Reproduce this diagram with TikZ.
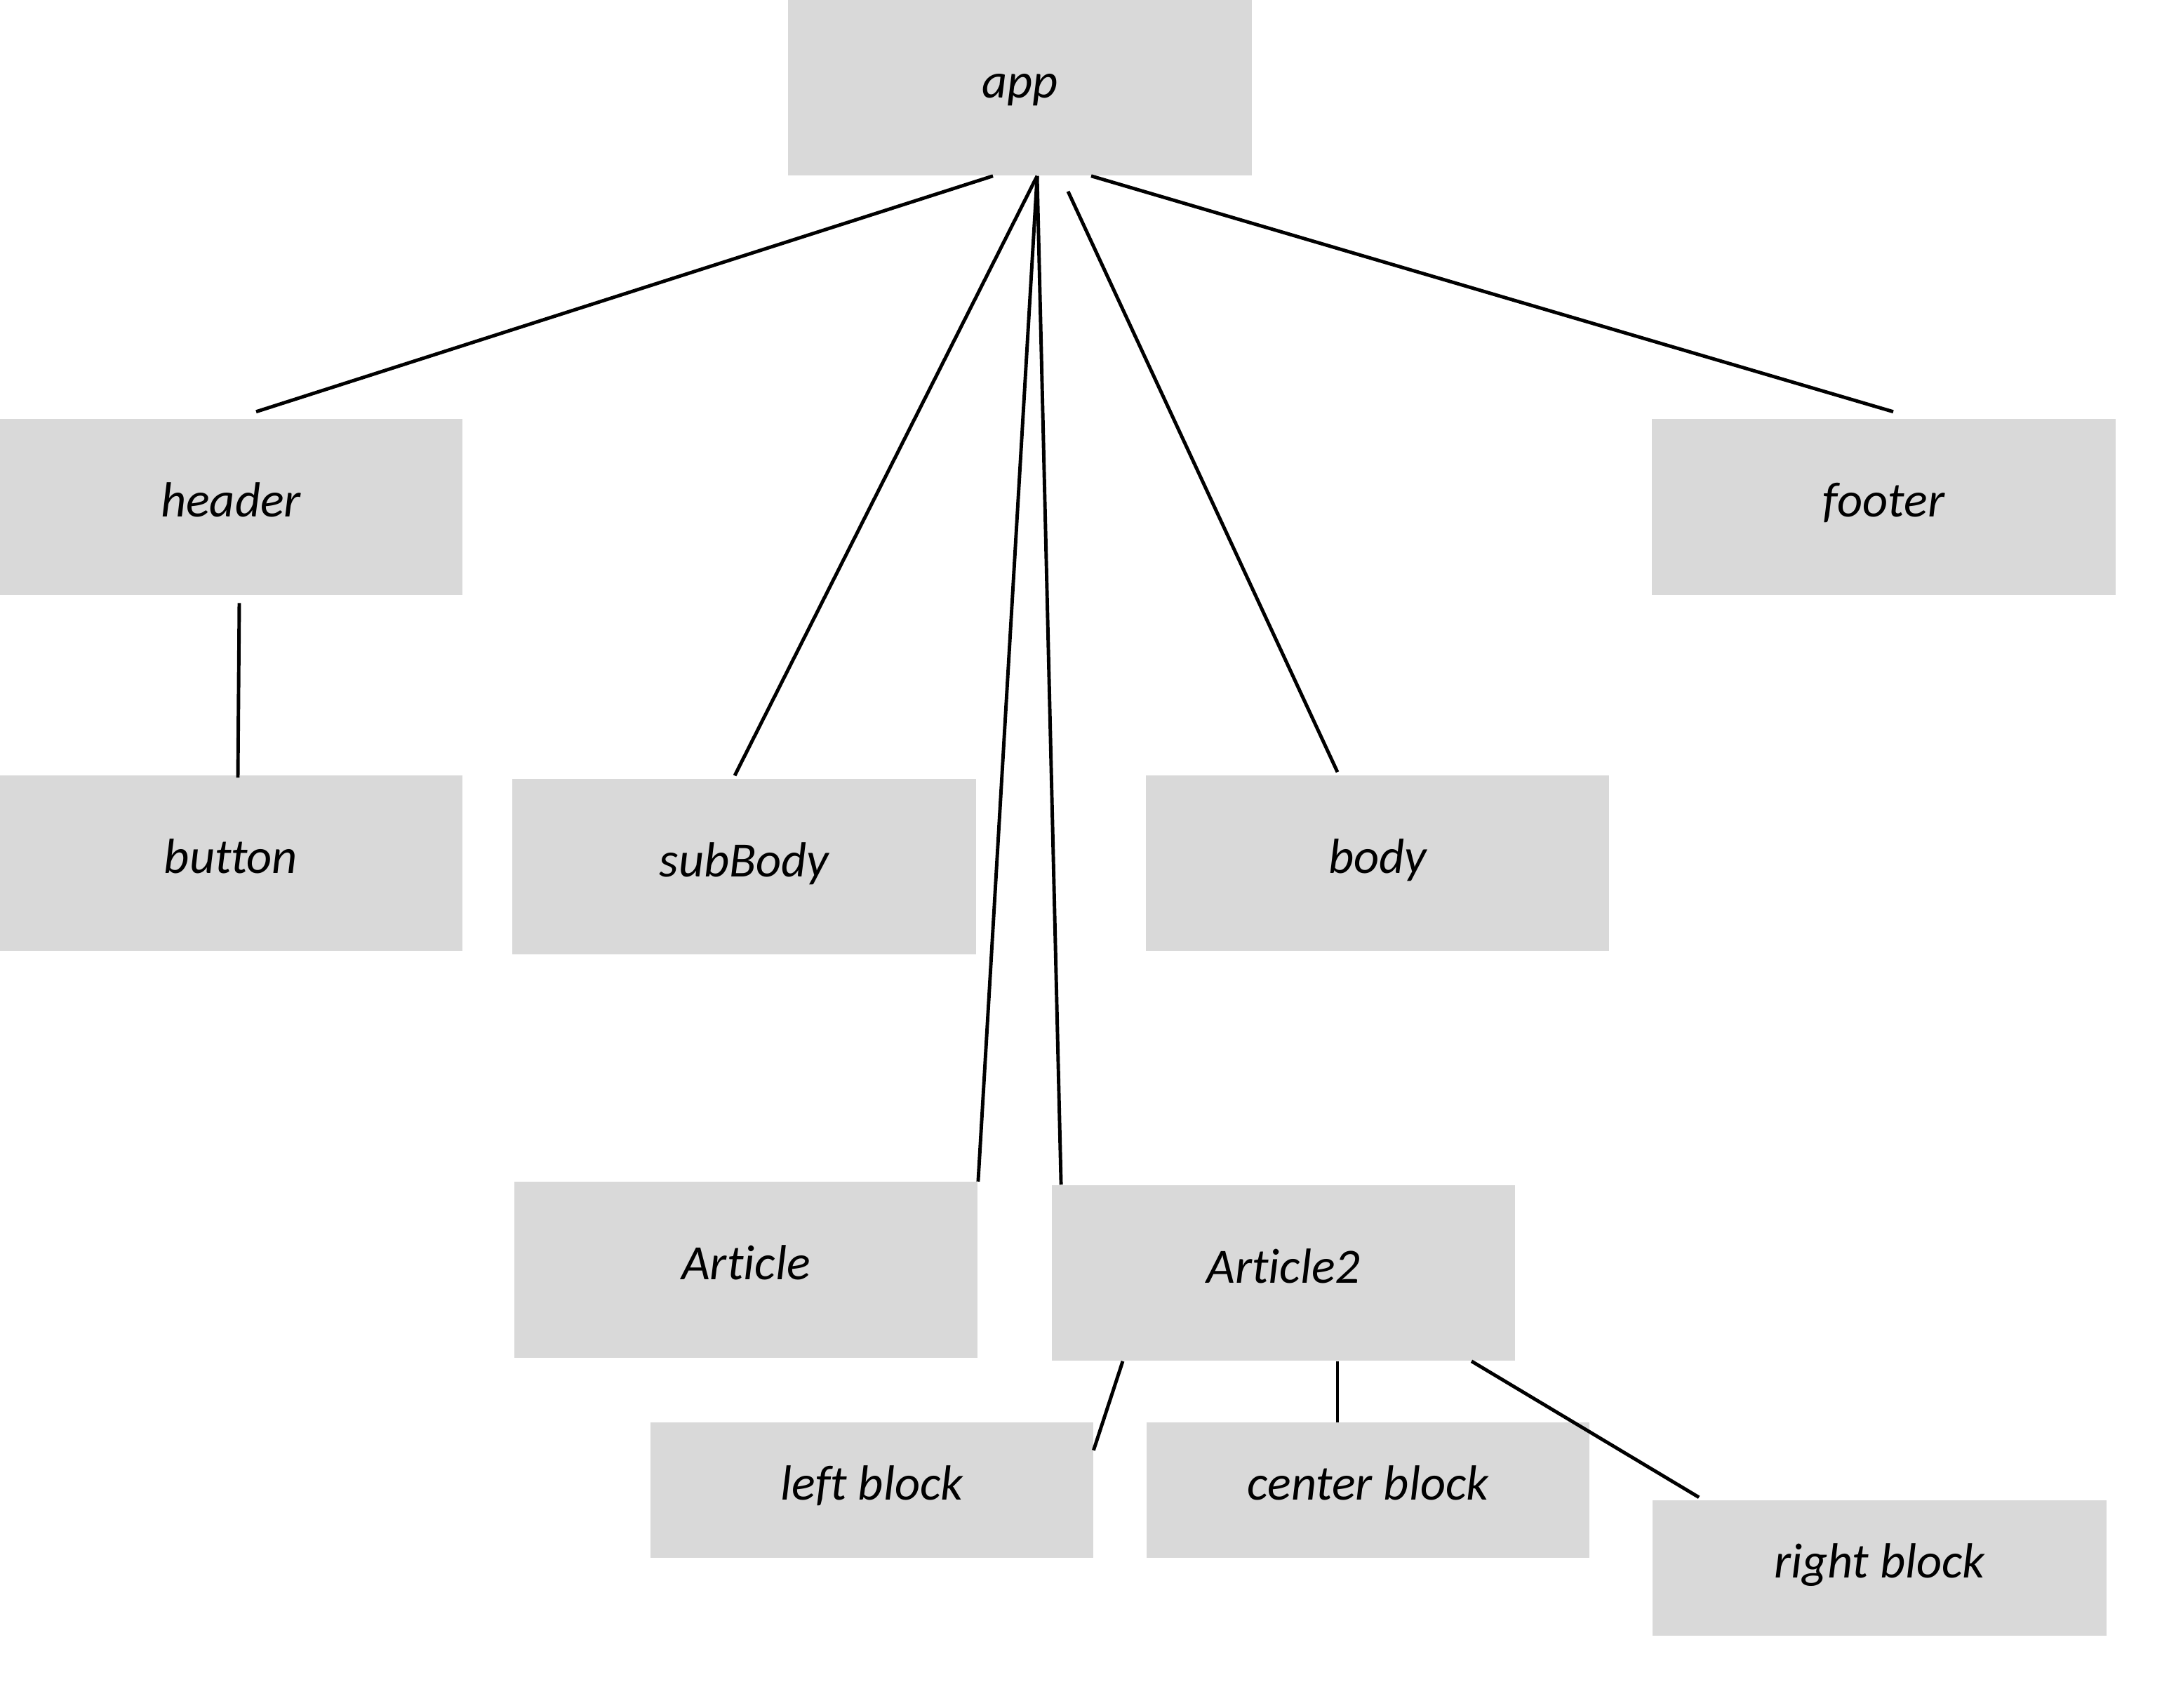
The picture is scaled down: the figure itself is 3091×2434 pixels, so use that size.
\documentclass[tikz,border=0pt]{standalone}
\usepackage{fontspec}
\setmainfont[Ligatures=NoCommon]{Carlito}
\usetikzlibrary{calc}
\definecolor{BoxFill}{HTML}{D9D9D9}
\definecolor{Wire}{HTML}{000000}

\begin{document}
\begin{tikzpicture}[x=0.01cm,y=-0.01cm,
  every node/.style={font=\itshape\fontsize{20}{24}\selectfont,text=black},
  blk/.style={fill=BoxFill,inner sep=0pt,text height=0.5cm,text depth=0.22cm,
    minimum width=6.6cm,minimum height=2.5cm},
  sblk/.style={blk,minimum width=6.3cm,minimum height=1.92cm},
  wire/.style={Wire,line width=1.4pt}]
\useasboundingbox (0,0) rectangle (3091,2434);
% boxes
\node[blk] (app) at (1453.5,125) {app};
\node[blk] (header) at (329,722.5) {header};
\node[blk] (footer) at (2684.5,722.5) {footer};
\node[blk] (button) at (329,1230) {button};
\node[blk] (subBody) at (1060.5,1235) {subBody};
\node[blk] (body) at (1963,1230) {body};
\node[blk] (article) at (1063,1809.5) {Article};
\node[blk] (article2) at (1829,1814) {Article2};
\node[sblk] (left) at (1242.5,2123.5) {left block};
\node[sblk] (center) at (1949.5,2123.5) {center block};
\node[sblk,minimum width=6.47cm] (right) at (2678.5,2234.5) {right block};
% links
\draw[wire] ($(app.south)+(-38.5,0)$) -- ($(header.north)+(36,-10)$);
\draw[wire] ($(app.south)+(24.5,0)$) -- ($(subBody.north)+(-13.5,-4)$);
\draw[wire] ($(app.south)+(24.5,0)$) -- (article.north east);
\draw[wire] ($(app.south)+(24.5,0)$) -- ($(article2.north west)+(14,0)$);
\draw[wire] ($(app.south)+(68.5,22)$) -- ($(body.north)+(-57,-4)$);
\draw[wire] ($(app.south)+(101.5,0)$) -- ($(footer.north)+(13.5,-10)$);
\draw[wire] ($(header.south)+(12,11)$) -- ($(button.north)+(10,4)$);
\draw[wire] ($(article2.south)+(-229,0)$) -- ($(left.north east)+(0,40)$);
\draw[wire] ($(article2.south)+(77,0)$) -- ($(center.north)+(-43.5,0)$);
\draw[wire] ($(article2.south)+(268,0)$) -- ($(right.north west)+(67,-4)$);
\end{tikzpicture}
\end{document}
